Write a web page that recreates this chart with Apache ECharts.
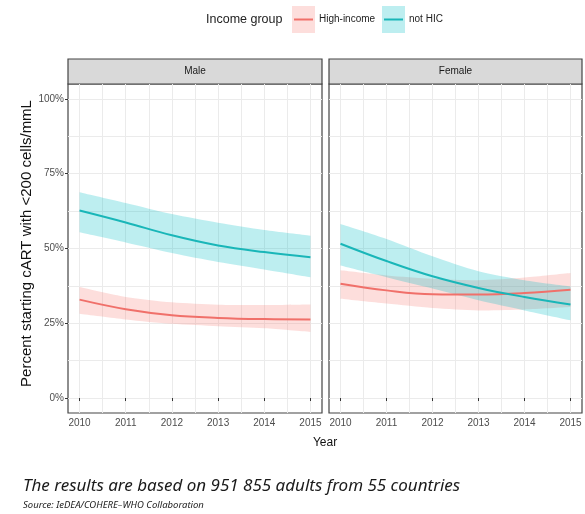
<!DOCTYPE html>
<html>
<head>
<meta charset="utf-8">
<script src="https://cdn.jsdelivr.net/npm/echarts@6/dist/echarts.min.js"></script>
<style>
  html, body { margin: 0; padding: 0; background: #fff; }
  #chart { width: 585px; height: 514px; }
</style>
</head>
<body>
<div id="chart"></div>
<script>
// Proportion of adults starting cART with CD4 < 200 cells/mmL, by sex and income group
const years = [2010, 2011, 2012, 2013, 2014, 2015];
const panels = ['Male', 'Female'];
const groups = ['High-income', 'not HIC'];

const maleHigh    = [32.9, 29.7, 27.7, 26.8, 26.4, 26.3];
const maleHighLo  = [28.2, 26.3, 24.8, 24.0, 23.3, 22.1];
const maleHighHi  = [37.1, 33.8, 32.0, 31.2, 31.1, 31.3];
const maleNot     = [62.7, 58.7, 54.4, 51.0, 48.8, 47.1];
const maleNotLo   = [55.4, 52.0, 48.5, 45.5, 43.0, 40.4];
const maleNotHi   = [68.8, 65.2, 61.5, 58.6, 56.2, 54.3];

const femaleHigh   = [38.2, 36.0, 34.7, 34.6, 35.1, 36.2];
const femaleHighLo = [33.2, 31.6, 30.1, 29.3, 29.6, 30.4];
const femaleHighHi = [42.7, 41.0, 39.9, 39.4, 40.3, 41.8];
const femaleNot    = [51.6, 45.8, 40.7, 36.8, 33.8, 31.3];
const femaleNotLo  = [44.3, 40.4, 36.6, 32.7, 29.3, 26.0];
const femaleNotHi  = [58.2, 53.2, 47.4, 42.4, 39.4, 37.3];

const yMajor = [0, 25, 50, 75, 100];
const yMinor = [12.5, 37.5, 62.5, 87.5];
const xMinor = [2010.5, 2011.5, 2012.5, 2013.5, 2014.5];

const RED = '#F0706A';
const TEAL = '#19B6B8';
const RED_BAND = 'rgba(248,118,109,0.24)';
const TEAL_BAND = 'rgba(0,191,196,0.26)';
const FONT = 'Liberation Sans, Arial, sans-serif';

const pts = vals => years.map((y, i) => [y, vals[i]]);

// Cubic Bezier segments through pixel points (Catmull-Rom style), appended to a path string
function smoothSegments(p) {
  let d = '';
  const k = 0.8;
  for (let i = 0; i < p.length - 1; i++) {
    const a = p[Math.max(i - 1, 0)], b = p[i], c = p[i + 1], e = p[Math.min(i + 2, p.length - 1)];
    const c1 = [b[0] + (c[0] - a[0]) / 6 * k, b[1] + (c[1] - a[1]) / 6 * k];
    const c2 = [c[0] - (e[0] - b[0]) / 6 * k, c[1] - (e[1] - b[1]) / 6 * k];
    d += ' C' + c1[0] + ' ' + c1[1] + ' ' + c2[0] + ' ' + c2[1] + ' ' + c[0] + ' ' + c[1];
  }
  return d;
}

// Confidence ribbon between the low and high values of each year
function band(idx, lo, hi, color) {
  return {
    type: 'custom', xAxisIndex: idx, yAxisIndex: idx, silent: true, z: 2,
    data: [[years[0], lo[0], hi[0]]],
    encode: { x: 0, y: [1, 2] },
    renderItem: function (params, api) {
      const upper = years.map((y, i) => api.coord([y, hi[i]]));
      const lower = years.map((y, i) => api.coord([y, lo[i]])).reverse();
      const d = 'M' + upper[0][0] + ' ' + upper[0][1] + smoothSegments(upper) +
        ' L' + lower[0][0] + ' ' + lower[0][1] + smoothSegments(lower) + ' Z';
      return {
        type: 'path',
        shape: { pathData: d },
        style: { fill: color, stroke: null }
      };
    }
  };
}
function curve(idx, vals, color) {
  return { type: 'line', xAxisIndex: idx, yAxisIndex: idx, data: pts(vals), smooth: 0.4,
    symbol: 'none', lineStyle: { color: color, width: 2 }, z: 5 };
}

const gridLine = { show: true, lineStyle: { color: '#EBEBEB', width: 1 } };

function xMain(idx) {
  return { type: 'value', gridIndex: idx, min: 2009.75, max: 2015.25,
    axisLine: { show: false },
    axisTick: { show: true, customValues: years, length: 3, lineStyle: { color: '#333' } },
    axisLabel: { customValues: years, formatter: v => String(v), color: '#4D4D4D', fontSize: 10,
      fontFamily: FONT, margin: 5 },
    splitLine: gridLine };
}
function xMinorAxis(idx) {
  return { type: 'value', gridIndex: idx, min: 2009.75, max: 2015.25, position: 'bottom',
    axisLine: { show: false },
    axisTick: { show: true, customValues: xMinor, length: 0, lineStyle: { color: 'rgba(0,0,0,0)' } },
    axisLabel: { show: false, customValues: xMinor },
    splitLine: gridLine };
}
function yMain(idx) {
  const ax = { type: 'value', gridIndex: idx, min: -5, max: 105,
    axisLine: { show: false },
    axisTick: { show: true, customValues: yMajor, length: idx === 0 ? 3 : 0, lineStyle: { color: '#333' } },
    axisLabel: { show: idx === 0, customValues: yMajor, formatter: v => v + '%',
      color: '#4D4D4D', fontSize: 10, fontFamily: FONT, margin: 4 },
    splitLine: gridLine };
  if (idx === 0) {
    Object.assign(ax, { name: 'Percent starting cART with <200 cells/mmL', nameLocation: 'middle',
      nameRotate: 90, nameGap: 34,
      nameTextStyle: { color: '#111', fontSize: 15, fontFamily: FONT, padding: [0, 0, 0, 10] } });
  }
  return ax;
}
function yMinorAxis(idx) {
  return { type: 'value', gridIndex: idx, min: -5, max: 105, position: 'left',
    axisLine: { show: false },
    axisTick: { show: true, customValues: yMinor, length: 0, lineStyle: { color: 'rgba(0,0,0,0)' } },
    axisLabel: { show: false, customValues: yMinor },
    splitLine: gridLine };
}

const gridBase = { top: 84, height: 329, show: true, backgroundColor: '#fff',
  borderColor: '#444', borderWidth: 1.2, containLabel: false };

function strip(x, w, label) {
  return { type: 'group', children: [
    { type: 'rect', shape: { x: x, y: 59, width: w, height: 25 },
      style: { fill: '#D9D9D9', stroke: '#444', lineWidth: 1.2 } },
    { type: 'text', x: x + w / 2, y: 71.5,
      style: { text: label, fill: '#1A1A1A', fontSize: 10, fontFamily: FONT, align: 'center', verticalAlign: 'middle' } }
  ] };
}
function legendKey(x, fill, stroke, label) {
  return { type: 'group', children: [
    { type: 'rect', shape: { x: x, y: 6, width: 23, height: 27 }, style: { fill: fill } },
    { type: 'line', shape: { x1: x + 2, y1: 19.5, x2: x + 21, y2: 19.5 }, style: { stroke: stroke, lineWidth: 2 } },
    { type: 'text', x: x + 27, y: 19.5,
      style: { text: label, fill: '#222', fontSize: 10, fontFamily: FONT, verticalAlign: 'middle' } }
  ] };
}

const option = {
  animation: false,
  backgroundColor: '#fff',
  grid: [
    Object.assign({ left: 68, width: 254 }, gridBase),
    Object.assign({ left: 329, width: 253 }, gridBase)
  ],
  xAxis: [xMain(0), xMain(1), xMinorAxis(0), xMinorAxis(1)],
  yAxis: [yMain(0), yMain(1), yMinorAxis(0), yMinorAxis(1)],
  series: [
    band(0, maleHighLo, maleHighHi, RED_BAND),
    band(0, maleNotLo, maleNotHi, TEAL_BAND),
    band(1, femaleHighLo, femaleHighHi, RED_BAND),
    band(1, femaleNotLo, femaleNotHi, TEAL_BAND),
    curve(0, maleHigh, RED),
    curve(0, maleNot, TEAL),
    curve(1, femaleHigh, RED),
    curve(1, femaleNot, TEAL)
  ],
  graphic: [
    strip(68, 254, panels[0]),
    strip(329, 253, panels[1]),
    { type: 'text', x: 325, y: 443,
      style: { text: 'Year', fill: '#111', fontSize: 12, fontFamily: FONT, align: 'center', verticalAlign: 'middle' } },
    { type: 'text', x: 206, y: 19.5,
      style: { text: 'Income group', fill: '#222', fontSize: 12.5, fontFamily: FONT, verticalAlign: 'middle' } },
    legendKey(292, RED_BAND, RED, groups[0]),
    legendKey(382, TEAL_BAND, TEAL, groups[1]),
    { type: 'text', x: 23, y: 486,
      style: { text: 'The results are based on 951 855 adults from 55 countries', fill: '#1a1a1a',
        fontSize: 17, fontStyle: 'italic', fontFamily: 'Noto Sans, sans-serif', verticalAlign: 'middle' } },
    { type: 'text', x: 23, y: 505,
      style: { text: 'Source: IeDEA/COHERE\u2013WHO Collaboration', fill: '#222',
        fontSize: 9.5, fontStyle: 'italic', fontFamily: 'Noto Sans, sans-serif', verticalAlign: 'middle' } }
  ]
};

echarts.init(document.getElementById('chart'), null, { renderer: 'canvas' }).setOption(option);
</script>
</body>
</html>
